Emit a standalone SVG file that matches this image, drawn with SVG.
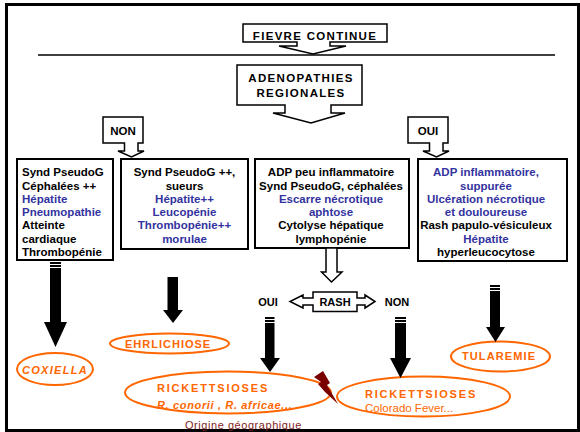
<svg xmlns="http://www.w3.org/2000/svg" width="580" height="432" viewBox="0 0 580 432">
<defs>
<style>
text{font-family:"Liberation Sans",Arial,sans-serif;}
.b{font-weight:bold;font-size:11.5px;fill:#000;}
.bl{fill:#3333a0;}
.m{text-anchor:middle;}
.cap{font-weight:bold;font-size:11.5px;letter-spacing:1.3px;fill:#000;}
.box{fill:#fff;stroke:#000;stroke-width:1.5;}
.cbox{fill:#fff;stroke:#000;stroke-width:2;}
.blk{fill:#000;}
.gap{fill:#fff;}
.ell{fill:none;stroke:#ff6600;stroke-width:2;}
.ot{fill:#ff6600;font-weight:bold;font-size:11px;}
</style>
</defs>
<rect x="6.5" y="4.5" width="572" height="426" fill="#fff" stroke="#000" stroke-width="3"/>
<line x1="38" y1="55" x2="555" y2="55" stroke="#000" stroke-width="1.5"/>

<g id="fievre">
<path class="box" d="M243,24 H387 V42 H330 V46 H346 L313,54 L279,46 H297 V42 H243 Z"/>
<text class="cap m" x="315" y="39.5">FIEVRE CONTINUE</text>
</g>
<g id="adenopathies">
<path class="box" d="M237,65 H362 V105 H331 V113 H345 L311,123 L273,113 H285 V105 H237 Z"/>
<text class="cap m" x="301" y="81.5">ADENOPATHIES</text>
<text class="cap m" x="301" y="96.5">REGIONALES</text>
</g>
<g id="non">
<path class="box" d="M103,117 H143 V143 H138 V151 H144 L131.5,157 L118,151 H124.5 V143 H103 Z"/>
<text class="b m" x="123" y="134.5">NON</text>
</g>
<g id="oui">
<path class="box" d="M408,117 H448 V143 H443 V151 H449 L436.5,157 L423,151 H429.5 V143 H408 Z"/>
<text class="b m" x="428" y="134.5">OUI</text>
</g>

<g id="box1">
<rect class="cbox" x="17" y="159" width="96" height="101"/>
<text class="b" x="22" y="176">Synd PseudoG</text>
<text class="b" x="22" y="189.5">Céphalées ++</text>
<text class="b bl" x="22" y="202.5">Hépatite</text>
<text class="b bl" x="22" y="216">Pneumopathie</text>
<text class="b" x="22" y="229">Atteinte</text>
<text class="b" x="22" y="242.5">cardiaque</text>
<text class="b" x="22" y="256">Thrombopénie</text>
</g>
<g id="box2">
<rect class="cbox" x="121" y="159" width="127" height="90"/>
<text class="b m" x="184.5" y="176">Synd PseudoG ++,</text>
<text class="b m" x="184.5" y="189.5">sueurs</text>
<text class="b m bl" x="184.5" y="202.5">Hépatite++</text>
<text class="b m bl" x="184.5" y="216">Leucopénie</text>
<text class="b m bl" x="184.5" y="229">Thrombopénie++</text>
<text class="b m bl" x="184.5" y="242.5">morulae</text>
</g>
<g id="box3">
<rect class="cbox" x="255" y="159" width="154" height="89"/>
<text class="b m" x="331" y="176">ADP peu inflammatoire</text>
<text class="b m" x="331" y="189.5">Synd PseudoG, céphalées</text>
<text class="b m bl" x="331" y="202.5">Escarre nécrotique</text>
<text class="b m bl" x="331" y="216">aphtose</text>
<text class="b m" x="331" y="229">Cytolyse hépatique</text>
<text class="b m" x="331" y="242.5">lymphopénie</text>
</g>
<g id="box4">
<rect class="cbox" x="418" y="159" width="149" height="102"/>
<text class="b m bl" x="486" y="176">ADP inflammatoire,</text>
<text class="b m bl" x="486" y="189.5">suppurée</text>
<text class="b m bl" x="486" y="202.5">Ulcération nécrotique</text>
<text class="b m bl" x="486" y="216">et douloureuse</text>
<text class="b m" x="486" y="229">Rash papulo-vésiculeux</text>
<text class="b m bl" x="486" y="242.5">Hépatite</text>
<text class="b m" x="486" y="256">hyperleucocytose</text>
</g>

<g id="rash">
<path class="box" d="M313,292 H357 V298 H365 V295 L375,301.5 L365,308 V305 H357 V311.5 H313 V305 H303 V308 L290,301.5 L303,295 V298 H313 Z"/>
<text class="b m" x="335" y="305.5" style="font-size:11px">RASH</text>
</g>
<g id="label-oui"><text class="b m" x="268" y="305.5" style="font-size:11px">OUI</text></g>
<g id="label-non"><text class="b m" x="397" y="305.5" style="font-size:11px">NON</text></g>

<g id="coxiella">
<ellipse class="ell" cx="55" cy="369" rx="38" ry="16"/>
<text class="ot" x="22" y="373.5" style="font-style:italic;letter-spacing:1.3px">COXIELLA</text>
</g>
<g id="ehrlichiose">
<ellipse class="ell" cx="169.5" cy="343.5" rx="59.5" ry="10"/>
<text class="ot" x="125" y="348" style="letter-spacing:1px">EHRLICHIOSE</text>
</g>
<g id="rick1">
<ellipse class="ell" cx="228" cy="392.5" rx="103" ry="21"/>
<text class="ot" x="157" y="391.5" style="letter-spacing:1.8px">RICKETTSIOSES</text>
<text class="ot" x="157" y="408.5" style="font-style:italic;letter-spacing:0.65px">R. conorii , R. africae...</text>
</g>
<g id="rick2">
<ellipse class="ell" cx="423.5" cy="396.5" rx="86.5" ry="20"/>
<text class="ot" x="365" y="398" style="letter-spacing:1.8px">RICKETTSIOSES</text>
<text class="ot" x="365" y="411.5" style="font-weight:normal;font-size:11.5px">Colorado Fever...</text>
</g>
<g id="tularemie">
<ellipse class="ell" cx="500.5" cy="356.5" rx="49.5" ry="15"/>
<text class="ot" x="462" y="360" style="letter-spacing:1.1px">TULAREMIE</text>
</g>
<g id="origine">
<text x="185" y="429" style="font-size:11px;fill:#7f1f1f;letter-spacing:0.55px">Origine géographique</text>
</g>
<g id="bolt">
<polygon fill="#7a0000" points="314,377 323,371 330,383 327,385 338,404 325,392 318,384 321,382"/>
</g>

<g id="connectors">
<polygon class="box" points="326,248 337,248 337,272 342,272 331.5,282 321.5,272 326,272"/>
<polygon class="blk" points="50,262 61,262 61,322 67,322 55.5,347 44,322 50,322"/>
<polygon class="blk" points="167.5,277 178,277 178,310 183,310 173,323 163,310 167.5,310"/>
<polygon class="blk" points="265,317 274.5,317 274.5,358 280,358 270,372 260,358 265,358"/>
<polygon class="blk" points="395,317 406,317 406,358 411,358 400.5,378 390,358 395,358"/>
<polygon class="blk" points="490,285 500,285 500,327 505,327 495.5,342 486,327 490,327"/>
<rect class="gap" x="49" y="264" width="13" height="1"/>
<rect class="gap" x="49" y="267" width="13" height="1"/>
<rect class="gap" x="264" y="319" width="12" height="1"/>
<rect class="gap" x="264" y="322" width="12" height="1"/>
<rect class="gap" x="394" y="319" width="13" height="1"/>
<rect class="gap" x="394" y="322" width="13" height="1"/>
<rect class="gap" x="489" y="287" width="12" height="1"/>
<rect class="gap" x="489" y="290" width="12" height="1"/>
</g>
</svg>
